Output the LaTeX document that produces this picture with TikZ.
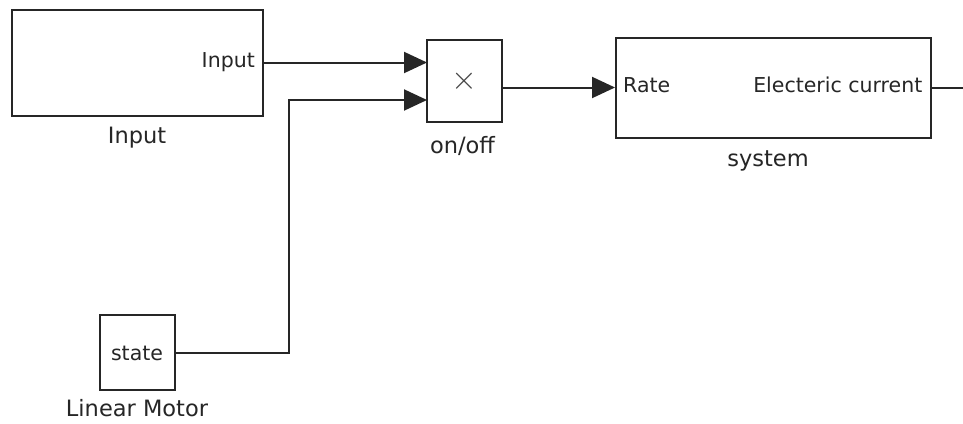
\documentclass[tikz,border=0pt]{standalone}
\usepackage{graphicx}
\usepackage{fontspec}
\setmainfont{DejaVu Sans}
\usetikzlibrary{arrows.meta,calc}
\definecolor{ink}{HTML}{262626}
\begin{document}
\begin{tikzpicture}[x=1pt,y=-1pt,
  blk/.style={draw=ink,line width=2pt,inner sep=0pt,fill=white},
  port/.style={text=ink,inner sep=0pt,font=\fontsize{20.5}{24}\selectfont},
  lbl/.style={text=ink,inner sep=0pt,font=\fontsize{22.5}{26}\selectfont},
  wire/.style={draw=ink,line width=2pt},
  arr/.style={wire,-{Triangle[length=23pt,width=21pt]}}]
\useasboundingbox[fill=white] (0,0) rectangle (963,423);
% blocks
\node[blk,minimum width=251pt,minimum height=106pt] (inp) at (137.5,62.5) {};
\node[blk,minimum width=75pt,minimum height=82pt] (prod) at (464.5,81) {};
\node[blk,minimum width=315pt,minimum height=100pt] (sys) at (773.5,87.5) {};
\node[blk,minimum width=75pt,minimum height=75pt] (mot) at (137.5,352.5) {};
% port labels
\node[port,anchor=mid east] (inpport) at (255,65) {Input};
\node[text=ink!85,inner sep=0pt,font=\fontsize{20}{24}\selectfont] (times) at (464.5,81.5) {\scalebox{1.6}{$\times$}};
\node[port,anchor=mid west] (rate) at (623,90) {Rate};
\node[port,anchor=mid east] (cur) at (922.5,90) {Electeric current};
\node[port] (state) at (137,353.5) {state};
% block labels
\node[lbl] (inplbl) at (137,138) {Input};
\node[lbl] (prodlbl) at (462.5,146) {on/off};
\node[lbl] (syslbl) at (768,161) {system};
\node[lbl] (motlbl) at (137,408) {Linear Motor};
% ports
\coordinate (pin1) at (427,62.5);
\coordinate (pin2) at (427,100);
\coordinate (pout) at (502,87.5);
\coordinate (sin) at (615,87.5);
\coordinate (sout) at (931,87.5);
\coordinate (send) at (963,87.5);
\coordinate (inpout) at (263,62.5);
\coordinate (motout) at (175,352.5);
\coordinate (bend) at (288.5,352.5);
% wires
\draw[arr] (inpout) -- (pin1);
\draw[arr] (motout) -- (bend) |- (pin2);
\draw[arr] (pout) -- (sin);
\draw[wire] (sout) -- (send);
\end{tikzpicture}
\end{document}
